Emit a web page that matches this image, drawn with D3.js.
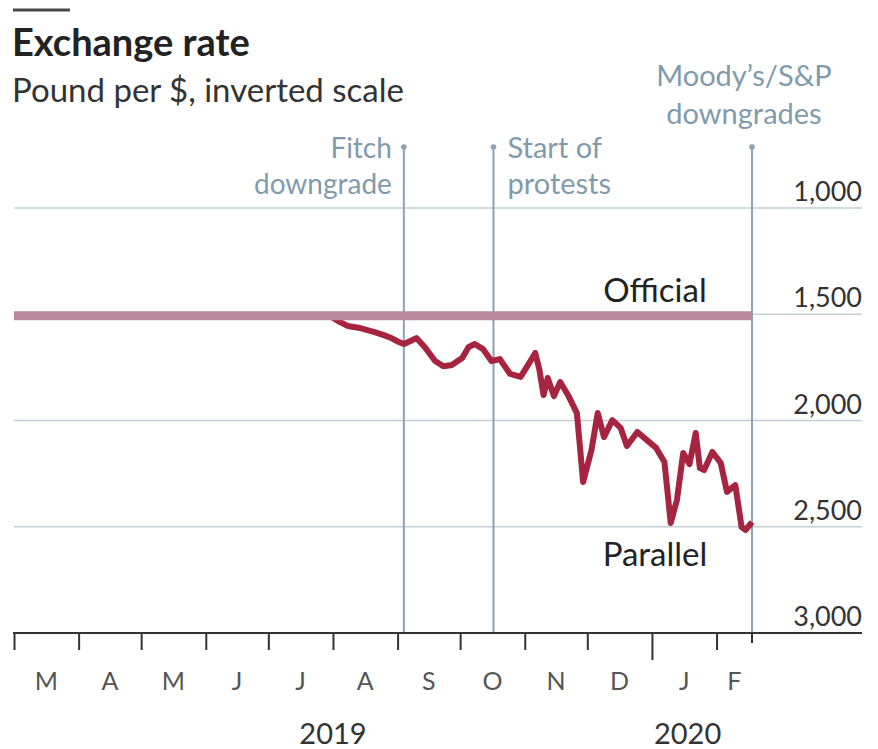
<!DOCTYPE html>
<html>
<head>
<meta charset="utf-8">
<script src="https://cdn.jsdelivr.net/npm/d3@7"></script>
<style>
  body { margin: 0; background: #fff; }
  text { font-family: Lato, "Noto Sans", sans-serif; }
</style>
</head>
<body>
<svg id="chart" width="878" height="749"></svg>
<script>
// data
var parallelDates = ["2019-03-01","2019-07-31","2019-08-04","2019-08-08","2019-08-14","2019-08-21",
  "2019-08-25","2019-08-29","2019-09-01","2019-09-04",
  "2019-09-08","2019-09-10","2019-09-14","2019-09-19","2019-09-23","2019-09-27","2019-10-02",
  "2019-10-05","2019-10-08","2019-10-12",
  "2019-10-16","2019-10-20","2019-10-25","2019-10-30","2019-11-02","2019-11-06","2019-11-08","2019-11-10",
  "2019-11-12","2019-11-15","2019-11-18","2019-11-22","2019-11-26","2019-11-29","2019-12-03",
  "2019-12-06","2019-12-09","2019-12-13","2019-12-17","2019-12-20","2019-12-25","2019-12-30",
  "2020-01-03","2020-01-07","2020-01-10","2020-01-13","2020-01-16","2020-01-19","2020-01-22",
  "2020-01-24","2020-01-26","2020-01-30","2020-02-03","2020-02-06","2020-02-10","2020-02-13",
  "2020-02-15","2020-02-18"];
var parallelValues = [1507.5,1510,1535,1555,1565,1584,
  1597,1612,1628,1640,
  1622,1612,1654,1720,1745,1739,1706,
  1655,1640,1664,
  1720,1711,1781,1795,1748,1682,1760,1880,
  1800,1885,1819,1885,1965,2289,2139,
  1965,2078,1998,2035,2120,2054,2096,
  2129,2195,2482,2374,2153,2205,2059,
  2224,2233,2148,2200,2336,2304,2501,
  2515,2478];
var officialDates = ["2019-03-01","2020-02-18"];
var officialValues = [1507.5,1507.5];

var yTicks = [1000,1500,2000,2500,3000];
var monthLabels = ["M","A","M","J","J","A","S","O","N","D","J","F"];
var yearLabels = ["2019","2020"];

var eventDates = ["2019-09-04","2019-10-17","2020-02-18"];
var eventLabels = [["Fitch","downgrade"],["Start of","protests"],["Moody\u2019s/S&P","downgrades"]];

var parseDate = d3.timeParse("%Y-%m-%d");
var start = parseDate("2019-03-01"), end = parseDate("2020-02-18");

var x = d3.scaleTime().domain([start, end]).range([14, 752]);
var y = d3.scaleLinear().domain([1000, 3000]).range([208, 633]);

var svg = d3.select("#chart");

// header
svg.append("line").attr("x1",13).attr("x2",70).attr("y1",10).attr("y2",10)
  .attr("stroke","#4a4a4a").attr("stroke-width",3);
svg.append("text").attr("x",12).attr("y",56).text("Exchange rate")
  .attr("font-size",38).attr("font-weight","bold").attr("fill","#222");
svg.append("text").attr("x",12).attr("y",102).text("Pound per $, inverted scale")
  .attr("font-size",33).attr("fill","#333");

// gridlines + y labels
svg.append("g").selectAll("line").data(yTicks.slice(0,4)).enter().append("line")
  .attr("x1",14).attr("x2",862)
  .attr("y1",function(d){return y(d);}).attr("y2",function(d){return y(d);})
  .attr("stroke","#c3ced6").attr("stroke-width",1.5);
svg.append("g").selectAll("text").data(yTicks).enter().append("text")
  .attr("x",862).attr("y",function(d){return y(d) - 7;})
  .attr("text-anchor","end").attr("font-size",27).attr("fill","#333")
  .text(function(d){return d3.format(",")(d);});

// event lines
var ev = svg.append("g").selectAll("g").data(eventDates).enter().append("g");
ev.append("line")
  .attr("x1",function(d){return x(parseDate(d));}).attr("x2",function(d){return x(parseDate(d));})
  .attr("y1",147).attr("y2",633)
  .attr("stroke","#8ea2b2").attr("stroke-width",2);
ev.append("circle")
  .attr("cx",function(d){return x(parseDate(d));}).attr("cy",147).attr("r",2.8)
  .attr("fill","#8ea2b2");

var evColor = "#7f9bac";
svg.append("text").attr("x",x(parseDate(eventDates[0])) - 12).attr("y",158)
  .attr("text-anchor","end").attr("font-size",28).attr("fill",evColor).text(eventLabels[0][0]);
svg.append("text").attr("x",x(parseDate(eventDates[0])) - 12).attr("y",194)
  .attr("text-anchor","end").attr("font-size",28).attr("fill",evColor).text(eventLabels[0][1]);
svg.append("text").attr("x",x(parseDate(eventDates[1])) + 14).attr("y",158)
  .attr("font-size",29).attr("fill",evColor).text(eventLabels[1][0]);
svg.append("text").attr("x",x(parseDate(eventDates[1])) + 14).attr("y",194)
  .attr("font-size",29).attr("fill",evColor).text(eventLabels[1][1]);
svg.append("text").attr("x",x(parseDate(eventDates[2])) - 8).attr("y",86)
  .attr("text-anchor","middle").attr("font-size",29).attr("fill",evColor).text(eventLabels[2][0]);
svg.append("text").attr("x",x(parseDate(eventDates[2])) - 8).attr("y",124)
  .attr("text-anchor","middle").attr("font-size",29).attr("fill",evColor).text(eventLabels[2][1]);

// lines
var line = d3.line()
  .x(function(d){return x(parseDate(d[0]));})
  .y(function(d){return y(d[1]);});

svg.append("path").datum(d3.zip(parallelDates, parallelValues))
  .attr("d", line).attr("fill","none")
  .attr("stroke","#a6243f").attr("stroke-width",6).attr("stroke-linejoin","round");
svg.append("path").datum(d3.zip(officialDates, officialValues))
  .attr("d", line).attr("fill","none")
  .attr("stroke","#b8899a").attr("stroke-width",9);

svg.append("text").attr("x",655).attr("y",y(1507.5) - 14).attr("text-anchor","middle")
  .attr("font-size",33).attr("fill","#222").text("Official");
svg.append("text").attr("x",655).attr("y",566).attr("text-anchor","middle")
  .attr("font-size",33).attr("fill","#222").text("Parallel");

// x axis
var xAxis = svg.append("g").attr("transform","translate(0,633)")
  .call(d3.axisBottom(x).ticks(d3.timeMonth.every(1)).tickSize(17).tickSizeOuter(0).tickFormat(""));
xAxis.select(".domain").remove();
xAxis.selectAll(".tick line").attr("stroke","#333").attr("stroke-width",2)
  .filter(function(d){return d.getMonth() === 0;}).attr("y2",27);
svg.append("line").attr("x1",x(end)).attr("x2",x(end)).attr("y1",633).attr("y2",643)
  .attr("stroke","#333").attr("stroke-width",2);
svg.append("line").attr("x1",13).attr("x2",862).attr("y1",633).attr("y2",633)
  .attr("stroke","#333").attr("stroke-width",2);

var months = d3.timeMonth.range(start, end);
svg.append("g").selectAll("text").data(months).enter().append("text")
  .attr("x",function(d,i){
    var next = i < months.length - 1 ? months[i+1] : end;
    return (x(d) + x(next)) / 2;
  })
  .attr("y",690).attr("text-anchor","middle").attr("font-size",25).attr("fill","#555")
  .text(function(d,i){return monthLabels[i];});

var jan = parseDate("2020-01-01");
svg.append("text").attr("x",(x(start) + x(jan)) / 2).attr("y",744).attr("text-anchor","middle")
  .attr("font-size",29).attr("fill","#333").text(yearLabels[0]);
svg.append("text").attr("x",x(jan) + 2).attr("y",744)
  .attr("font-size",29).attr("fill","#333").text(yearLabels[1]);
</script>
</body>
</html>
